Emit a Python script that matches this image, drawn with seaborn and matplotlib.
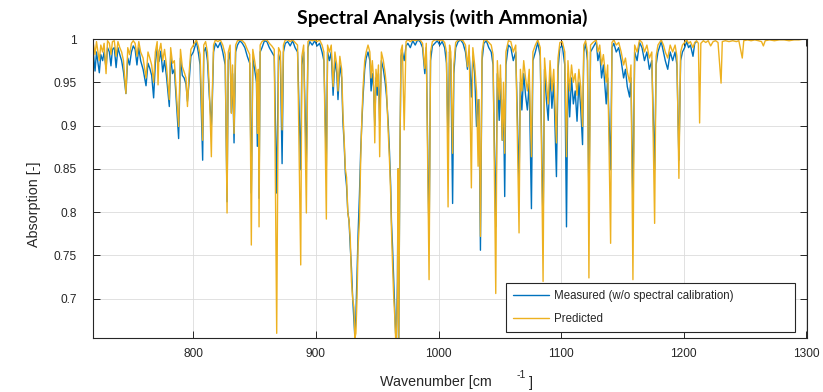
import matplotlib
matplotlib.use("Agg")
import matplotlib.pyplot as plt
import numpy as np
import pandas as pd
import seaborn as sns

# ---- data -------------------------------------------------------------
wn_measured = [
    718.0, 719.0, 719.8, 721.0, 722.2, 723.3, 724.5, 726.0, 727.2, 728.8,
    730.0, 731.5, 732.8, 734.0, 735.5, 737.0, 738.5, 740.0, 741.5, 743.0,
    745.0, 746.5, 748.0, 749.5, 751.0, 752.5, 754.0, 755.5, 757.0, 759.0,
    761.4, 763.0, 764.5, 766.0, 767.6, 769.0, 770.5, 772.0, 773.5, 775.0,
    776.5, 778.0, 780.4, 781.5, 783.0, 784.5, 786.0, 788.0, 789.5, 791.0,
    792.5, 794.0, 795.2, 796.5, 798.0, 800.0, 802.5, 804.0, 805.5, 807.6,
    808.5, 810.0, 811.5, 813.0, 814.7, 815.5, 816.5, 818.0, 820.0, 822.0,
    824.0, 826.0, 827.5, 828.5, 830.0, 831.0, 832.0, 833.2, 834.5, 836.0,
    838.0, 840.0, 842.0, 844.0, 846.0, 847.3, 848.5, 850.0, 851.5, 852.2,
    853.0, 853.6, 854.5, 856.0, 858.0, 860.0, 862.0, 864.0, 866.0, 868.0,
    869.5, 871.0, 872.4, 873.5, 875.0, 877.0, 879.0, 881.0, 883.0, 885.0,
    887.6, 888.5, 890.0, 892.2, 893.5, 895.0, 897.0, 899.0, 901.0, 903.0,
    905.0, 906.5, 908.5, 909.5, 911.0, 912.5, 914.0, 915.5, 917.0, 918.0,
    919.5, 921.0, 922.0, 923.0, 924.0, 925.0, 926.0, 927.0, 928.0, 929.0,
    930.0, 931.0, 931.8, 932.6, 933.5, 934.4, 935.5, 936.5, 937.5, 938.5,
    939.8, 941.0, 942.5, 944.0, 945.0, 946.0, 947.0, 948.0, 949.0, 950.0,
    951.0, 952.0, 953.4, 955.0, 956.5, 957.5, 958.9, 960.0, 961.0, 961.6,
    962.5, 963.5, 964.3, 965.0, 965.7, 966.5, 967.0, 967.6, 968.4, 969.4,
    970.5, 972.0, 973.5, 975.0, 977.0, 979.0, 981.0, 983.0, 985.0, 987.0,
    988.8, 990.0, 992.3, 993.5, 995.0, 997.0, 999.0, 1001.0, 1003.0, 1005.0,
    1006.5, 1007.8, 1009.0, 1010.0, 1011.5, 1012.5, 1014.0, 1016.0, 1018.0, 1020.0,
    1022.0, 1023.6, 1025.0, 1026.8, 1028.0, 1029.5, 1031.0, 1032.3, 1033.2, 1034.2,
    1035.5, 1037.0, 1039.0, 1041.0, 1043.0, 1044.5, 1046.7, 1048.0, 1049.5, 1050.5,
    1052.0, 1053.0, 1054.0, 1055.0, 1057.0, 1059.0, 1061.0, 1063.0, 1065.7, 1066.8,
    1068.0, 1069.5, 1071.0, 1072.5, 1074.0, 1075.8, 1077.0, 1079.0, 1081.0, 1083.0,
    1085.3, 1086.5, 1088.0, 1089.5, 1091.0, 1092.5, 1094.0, 1096.2, 1097.5, 1099.0,
    1101.0, 1103.0, 1104.4, 1105.6, 1107.0, 1108.5, 1110.0, 1111.5, 1113.0, 1114.5,
    1116.0, 1117.5, 1118.5, 1120.0, 1121.5, 1122.7, 1124.0, 1126.0, 1128.7, 1130.0,
    1131.5, 1133.0, 1134.5, 1136.8, 1138.0, 1140.4, 1141.5, 1143.0, 1145.0, 1147.0,
    1149.0, 1151.0, 1152.5, 1154.0, 1155.9, 1157.0, 1158.6, 1160.0, 1162.0, 1164.0,
    1166.0, 1168.0, 1170.0, 1172.0, 1174.0, 1176.3, 1177.5, 1179.0, 1181.7, 1183.5,
    1185.0, 1187.0, 1189.0, 1191.0, 1193.0, 1194.5, 1196.1, 1197.5, 1199.0, 1200.8,
    1202.5, 1204.0, 1205.5, 1207.6, 1209.0, 1210.5,
]
abs_measured = [
    0.992, 0.975, 0.963, 0.985, 0.972, 0.961, 0.982, 0.975, 0.985, 0.966,
    0.990, 0.985, 0.969, 0.988, 0.990, 0.967, 0.990, 0.982, 0.975, 0.962,
    0.937, 0.978, 0.970, 0.985, 0.992, 0.988, 0.970, 0.990, 0.975, 0.965,
    0.946, 0.972, 0.966, 0.958, 0.932, 0.972, 0.990, 0.974, 0.986, 0.962,
    0.975, 0.958, 0.922, 0.980, 0.960, 0.965, 0.930, 0.885, 0.978, 0.958,
    0.955, 0.948, 0.928, 0.950, 0.980, 0.985, 0.997, 0.985, 0.970, 0.860,
    0.985, 0.990, 0.975, 0.935, 0.900, 0.930, 0.985, 0.995, 0.990, 0.996,
    0.985, 0.970, 0.812, 0.975, 0.985, 0.915, 0.960, 0.880, 0.985, 0.993,
    0.998, 0.995, 0.990, 0.980, 0.972, 0.822, 0.978, 0.965, 0.950, 0.876,
    0.960, 0.816, 0.985, 0.990, 0.998, 0.997, 0.990, 0.985, 0.980, 0.822,
    0.982, 0.975, 0.856, 0.985, 0.995, 0.997, 0.992, 0.998, 0.990, 0.985,
    0.849, 0.970, 0.985, 0.858, 0.990, 0.997, 0.993, 0.998, 0.992, 0.995,
    0.985, 0.975, 0.853, 0.985, 0.975, 0.985, 0.935, 0.975, 0.960, 0.930,
    0.970, 0.955, 0.905, 0.880, 0.845, 0.830, 0.800, 0.790, 0.760, 0.735,
    0.700, 0.675, 0.6546, 0.680, 0.730, 0.775, 0.820, 0.870, 0.905, 0.935,
    0.965, 0.978, 0.985, 0.975, 0.940, 0.960, 0.945, 0.900, 0.955, 0.935,
    0.960, 0.905, 0.975, 0.965, 0.950, 0.935, 0.905, 0.870, 0.830, 0.790,
    0.760, 0.720, 0.685, 0.660, 0.6546, 0.720, 0.850, 0.6546, 0.850, 0.980,
    0.985, 0.975, 0.992, 0.995, 0.990, 0.998, 0.993, 0.999, 0.997, 0.990,
    0.960, 0.990, 0.764, 0.975, 0.992, 0.995, 0.998, 0.993, 0.997, 0.990,
    0.972, 0.880, 0.985, 0.975, 0.810, 0.960, 0.990, 0.997, 0.999, 0.995,
    0.985, 0.965, 0.985, 0.933, 0.980, 0.960, 0.899, 0.930, 0.900, 0.756,
    0.975, 0.995, 0.998, 0.990, 0.985, 0.970, 0.783, 0.960, 0.906, 0.955,
    0.883, 0.930, 0.818, 0.970, 0.993, 0.990, 0.975, 0.985, 0.833, 0.950,
    0.918, 0.960, 0.935, 0.918, 0.950, 0.804, 0.975, 0.985, 0.996, 0.980,
    0.779, 0.965, 0.930, 0.906, 0.960, 0.920, 0.950, 0.841, 0.965, 0.990,
    0.992, 0.970, 0.783, 0.960, 0.910, 0.955, 0.925, 0.940, 0.905, 0.950,
    0.920, 0.878, 0.985, 0.995, 0.975, 0.810, 0.985, 0.990, 0.997, 0.975,
    0.985, 0.955, 0.970, 0.925, 0.955, 0.849, 0.990, 0.995, 0.985, 0.990,
    0.975, 0.955, 0.965, 0.945, 0.933, 0.955, 0.810, 0.985, 0.975, 0.996,
    0.990, 0.975, 0.985, 0.965, 0.975, 0.849, 0.970, 0.985, 0.997, 0.985,
    0.975, 0.965, 0.985, 0.975, 0.985, 0.970, 0.860, 0.975, 0.985, 0.990,
    0.997, 0.990, 0.993, 0.980, 0.995, 0.997,
]

wn_predicted = [
    718.0, 719.0, 719.8, 721.0, 722.2, 723.3, 724.5, 726.0, 727.2, 728.8,
    730.0, 731.5, 732.8, 734.0, 735.5, 737.0, 738.5, 740.0, 741.5, 743.0,
    745.0, 746.5, 748.0, 749.5, 751.0, 752.5, 754.0, 755.5, 757.0, 759.0,
    761.4, 763.0, 764.5, 766.0, 767.6, 769.0, 770.5, 771.2, 772.0, 773.5,
    775.0, 776.5, 778.0, 780.4, 781.5, 783.0, 784.5, 786.0, 788.0, 789.5,
    791.0, 792.5, 794.0, 795.2, 796.5, 798.0, 800.0, 802.5, 804.0, 805.5,
    807.6, 808.5, 810.0, 811.5, 813.0, 814.7, 815.5, 816.5, 818.0, 820.0,
    822.0, 824.0, 826.0, 827.5, 828.5, 830.0, 831.0, 832.0, 833.2, 834.5,
    836.0, 838.0, 840.0, 842.0, 844.0, 846.0, 847.3, 848.5, 850.0, 851.5,
    852.2, 853.0, 853.6, 854.5, 856.0, 858.0, 860.0, 862.0, 864.0, 866.0,
    868.0, 869.5, 871.0, 872.4, 873.5, 875.0, 877.0, 879.0, 881.0, 883.0,
    885.0, 887.6, 888.5, 890.0, 892.2, 893.5, 895.0, 897.0, 899.0, 901.0,
    903.0, 905.0, 906.5, 908.5, 909.5, 911.0, 912.5, 914.0, 915.5, 917.0,
    918.0, 919.5, 921.0, 922.0, 923.0, 924.0, 925.0, 926.0, 927.0, 928.0,
    929.0, 930.0, 931.0, 931.8, 932.6, 933.5, 934.4, 935.5, 936.5, 937.5,
    938.5, 939.8, 941.0, 942.5, 944.0, 945.0, 946.0, 947.0, 948.0, 949.0,
    950.0, 951.0, 952.0, 953.4, 955.0, 956.5, 957.5, 958.9, 960.0, 961.0,
    961.6, 962.5, 963.5, 964.3, 965.0, 965.7, 966.5, 967.0, 967.6, 968.4,
    969.4, 970.5, 972.0, 973.5, 975.0, 977.0, 979.0, 981.0, 983.0, 985.0,
    987.0, 988.8, 990.0, 992.3, 993.5, 995.0, 997.0, 999.0, 1001.0, 1003.0,
    1005.0, 1006.5, 1007.8, 1009.0, 1010.0, 1011.5, 1012.5, 1014.0, 1016.0, 1018.0,
    1020.0, 1022.0, 1023.6, 1025.0, 1026.8, 1028.0, 1029.5, 1031.0, 1032.3, 1033.2,
    1034.2, 1035.5, 1037.0, 1039.0, 1041.0, 1043.0, 1044.5, 1046.7, 1048.0, 1049.5,
    1050.5, 1052.0, 1053.0, 1054.0, 1055.0, 1057.0, 1059.0, 1061.0, 1063.0, 1065.7,
    1066.8, 1068.0, 1069.5, 1071.0, 1072.5, 1074.0, 1075.8, 1077.0, 1079.0, 1081.0,
    1083.0, 1085.3, 1086.5, 1088.0, 1089.5, 1091.0, 1092.5, 1094.0, 1096.2, 1097.5,
    1099.0, 1101.0, 1103.0, 1104.4, 1105.6, 1107.0, 1108.5, 1110.0, 1111.5, 1113.0,
    1114.5, 1116.0, 1117.5, 1118.5, 1120.0, 1121.5, 1122.7, 1124.0, 1126.0, 1128.7,
    1130.0, 1131.5, 1133.0, 1134.5, 1136.8, 1138.0, 1140.4, 1141.5, 1143.0, 1145.0,
    1147.0, 1149.0, 1151.0, 1152.5, 1154.0, 1155.9, 1157.0, 1158.6, 1160.0, 1162.0,
    1164.0, 1166.0, 1168.0, 1170.0, 1172.0, 1174.0, 1176.3, 1177.5, 1179.0, 1181.7,
    1183.5, 1185.0, 1187.0, 1189.0, 1191.0, 1193.0, 1194.5, 1196.1, 1197.5, 1199.0,
    1200.8, 1202.5, 1204.0, 1205.5, 1207.6, 1209.0, 1210.5, 1212.0, 1213.0, 1214.0,
    1216.0, 1218.0, 1220.0, 1222.0, 1224.0, 1226.0, 1228.0, 1230.5, 1231.5, 1234.0,
    1237.0, 1240.0, 1243.0, 1245.0, 1247.8, 1249.0, 1252.0, 1255.0, 1258.0, 1261.0,
    1263.5, 1265.0, 1266.5, 1270.0, 1274.0, 1278.0, 1282.0, 1286.0, 1290.0, 1294.0,
    1298.0, 1300.6,
]
abs_predicted = [
    0.998, 0.990, 0.982, 0.997, 0.985, 0.975, 0.993, 0.985, 0.995, 0.960,
    0.998, 0.995, 0.982, 0.997, 0.998, 0.980, 0.997, 0.990, 0.985, 0.975,
    0.937, 0.990, 0.982, 0.995, 0.998, 0.995, 0.980, 0.997, 0.985, 0.978,
    0.955, 0.985, 0.978, 0.970, 0.950, 0.985, 0.997, 0.947, 0.985, 0.995,
    0.975, 0.988, 0.970, 0.930, 0.990, 0.972, 0.975, 0.940, 0.899, 0.988,
    0.968, 0.962, 0.955, 0.922, 0.960, 0.988, 0.993, 0.999, 0.992, 0.982,
    0.883, 0.993, 0.997, 0.985, 0.945, 0.864, 0.940, 0.993, 0.999, 0.997,
    0.999, 0.993, 0.982, 0.799, 0.985, 0.993, 0.914, 0.970, 0.891, 0.993,
    0.998, 0.999, 0.998, 0.995, 0.988, 0.982, 0.762, 0.988, 0.975, 0.960,
    0.891, 0.965, 0.783, 0.993, 0.997, 0.999, 0.999, 0.995, 0.992, 0.988,
    0.660, 0.990, 0.985, 0.895, 0.993, 0.999, 0.999, 0.997, 0.999, 0.996,
    0.993, 0.739, 0.980, 0.993, 0.799, 0.997, 0.999, 0.998, 0.999, 0.997,
    0.999, 0.993, 0.985, 0.792, 0.993, 0.985, 0.993, 0.945, 0.985, 0.970,
    0.940, 0.980, 0.965, 0.915, 0.885, 0.850, 0.840, 0.800, 0.790, 0.770,
    0.720, 0.700, 0.690, 0.6546, 0.660, 0.700, 0.760, 0.790, 0.860, 0.910,
    0.945, 0.975, 0.985, 0.993, 0.985, 0.955, 0.975, 0.955, 0.880, 0.965,
    0.945, 0.970, 0.864, 0.985, 0.975, 0.960, 0.945, 0.895, 0.860, 0.820,
    0.780, 0.740, 0.700, 0.680, 0.6546, 0.6546, 0.700, 0.850, 0.6546, 0.850,
    0.987, 0.993, 0.895, 0.997, 0.999, 0.997, 0.999, 0.998, 0.999, 0.999,
    0.995, 0.966, 0.995, 0.722, 0.985, 0.997, 0.999, 0.999, 0.998, 0.999,
    0.996, 0.985, 0.806, 0.993, 0.985, 0.868, 0.970, 0.996, 0.999, 0.999,
    0.998, 0.993, 0.968, 0.993, 0.828, 0.990, 0.970, 0.940, 0.853, 0.930,
    0.772, 0.985, 0.999, 0.999, 0.996, 0.993, 0.982, 0.706, 0.975, 0.930,
    0.970, 0.883, 0.950, 0.868, 0.985, 0.998, 0.997, 0.985, 0.993, 0.776,
    0.965, 0.940, 0.975, 0.955, 0.940, 0.965, 0.864, 0.985, 0.993, 0.999,
    0.990, 0.720, 0.978, 0.950, 0.925, 0.975, 0.940, 0.965, 0.880, 0.978,
    0.996, 0.997, 0.985, 0.864, 0.975, 0.940, 0.970, 0.950, 0.960, 0.935,
    0.965, 0.945, 0.899, 0.993, 0.998, 0.985, 0.724, 0.993, 0.996, 0.999,
    0.985, 0.993, 0.970, 0.982, 0.950, 0.970, 0.764, 0.996, 0.999, 0.993,
    0.996, 0.985, 0.970, 0.978, 0.962, 0.950, 0.970, 0.722, 0.993, 0.985,
    0.999, 0.996, 0.985, 0.993, 0.978, 0.985, 0.787, 0.980, 0.993, 0.999,
    0.993, 0.985, 0.978, 0.993, 0.985, 0.993, 0.980, 0.839, 0.985, 0.993,
    0.996, 0.999, 0.995, 0.997, 0.990, 0.996, 0.998, 0.995, 0.903, 0.995,
    0.998, 0.996, 0.998, 0.992, 0.997, 0.998, 0.996, 0.949, 0.997, 0.998,
    0.997, 0.998, 0.997, 0.998, 0.978, 0.998, 0.999, 0.998, 0.999, 0.998,
    0.997, 0.992, 0.998, 0.999, 0.998, 0.999, 0.999, 0.998, 0.999, 0.999,
    1.000, 1.000,
]

series_labels = ["Measured (w/o spectral calibration)", "Predicted"]
y_ticks = [0.7, 0.75, 0.8, 0.85, 0.9, 0.95, 1.0]
x_ticks = [800, 900, 1000, 1100, 1200, 1300]

# ---- styling ------------------------------------------------------------
sns.set_theme(style="white")
plt.rcParams["font.family"] = ["Liberation Sans", "DejaVu Sans"]

line_colors = {series_labels[0]: "#0072BD", series_labels[1]: "#EDB120"}
ink = "#262626"

df = pd.concat(
    [
        pd.DataFrame({"wavenumber": wn_measured, "absorption": abs_measured,
                      "series": series_labels[0]}),
        pd.DataFrame({"wavenumber": wn_predicted, "absorption": abs_predicted,
                      "series": series_labels[1]}),
    ],
    ignore_index=True,
)

W, H = 823, 392
fig = plt.figure(figsize=(W / 100, H / 100), dpi=100)
ax_left, ax_right, ax_top, ax_bottom = 92.7, 807.0, 39.0, 338.0
ax = fig.add_axes([ax_left / W, 1 - ax_bottom / H,
                   (ax_right - ax_left) / W, (ax_bottom - ax_top) / H])

sns.lineplot(data=df, x="wavenumber", y="absorption", hue="series",
             hue_order=series_labels, palette=line_colors,
             estimator=None, sort=False, linewidth=1.0, ax=ax)

ax.set_xlim(717.9, 1300.6)
ax.set_ylim(0.6546, 1.0)
ax.set_xticks(x_ticks)
ax.set_yticks(y_ticks)
ax.set_yticklabels([f"{v:g}" for v in y_ticks])
ax.set_xticklabels([str(v) for v in x_ticks])

ax.grid(True, color="#dcdcdc", linewidth=0.6)
ax.set_axisbelow(True)
for sp in ax.spines.values():
    sp.set_color(ink)
    sp.set_linewidth(0.8)
ax.tick_params(axis="both", direction="in", length=5.2, width=0.7,
               color=ink, labelcolor=ink, labelsize=8.6,
               top=True, right=True, left=True, bottom=True)
ax.tick_params(axis="y", pad=11.5)
ax.tick_params(axis="x", pad=7.5)

ax.set_xlabel("")
ax.set_ylabel("")

# axis titles
fig.text(34 / W, 1 - 204 / H, "Absorption [-]", rotation=90, ha="center",
         va="center", fontsize=10.3, color=ink)
fig.text(492 / W, 1 - 386 / H, "Wavenumber [cm", ha="right", va="baseline",
         fontsize=10.3, color=ink)
fig.text(517 / W, 1 - 377.5 / H, "-1", ha="left", va="baseline",
         fontsize=7.5, color=ink)
fig.text(529 / W, 1 - 386.5 / H, "]", ha="left", va="baseline",
         fontsize=10.3, color=ink)

fig.text(442 / W, 1 - 17.5 / H, "Spectral Analysis (with Ammonia)",
         ha="center", va="center", fontsize=14, fontweight="bold",
         family=["Lato", "DejaVu Sans"], color="black")

# legend box in the lower right
bx0, by0, bx1, by1 = 505.7, 283.3, 795.3, 330.7
axw, axh = ax_right - ax_left, ax_bottom - ax_top
handles, labels = ax.get_legend_handles_labels()
leg = ax.legend(handles, labels, loc="upper left",
                bbox_to_anchor=((bx0 - ax_left) / axw, (ax_bottom - by1) / axh,
                                (bx1 - bx0) / axw, (by1 - by0) / axh),
                mode="expand", borderaxespad=0, fontsize=8.3,
                handlelength=3.18, handletextpad=0.38, borderpad=0.6,
                labelspacing=0.9, frameon=True, fancybox=False,
                framealpha=1, edgecolor=ink)
leg.get_frame().set_linewidth(0.8)
for t in leg.get_texts():
    t.set_color(ink)

fig.savefig("out.png", dpi=100)
